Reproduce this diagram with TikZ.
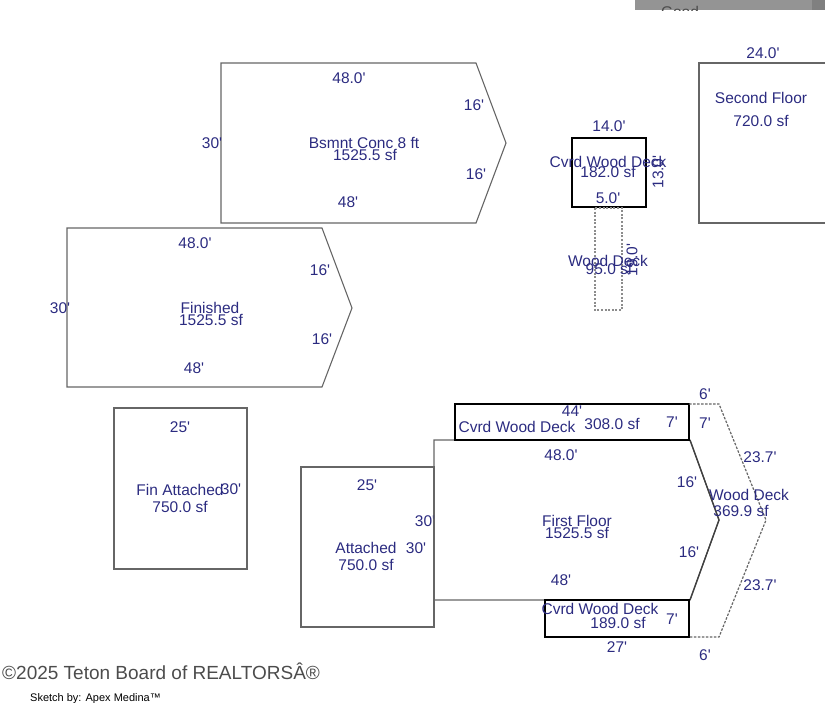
\documentclass[tikz,border=0pt]{standalone}
\usepackage{fontspec}
\newfontfamily\lblfont{Liberation Sans}
\usetikzlibrary{positioning}
\definecolor{labelblue}{HTML}{2B2B80}
\begin{document}
\begin{tikzpicture}[
    x=1pt, y=-1pt,
    lbl/.style={text=labelblue, font=\lblfont\fontsize{15.5}{15.5}\selectfont, inner sep=0pt},
    vlbl/.style={lbl, rotate=90},
    wall/.style={draw=black!60, line width=1.1pt, line join=miter},
    deck/.style={draw=black, line width=2.4pt},
    dotdeck/.style={draw=black!45, line width=1.9pt, dash pattern=on 2pt off 1.6pt}
]
    \useasboundingbox (0,0) rectangle (825,702);
    \clip (0,0) rectangle (825,702);

    % Grey bar along the top
    \fill[black!42] (635,0) rectangle (825,10);
    \fill[black!50] (812,0) rectangle (825,10);
    \begin{scope}
        \clip (635,0) rectangle (825,10);
        \node[text=black!70, font=\lblfont\fontsize{15.5}{15.5}\selectfont, inner sep=0pt] (good) at (680,12) {Good};
    \end{scope}

    % Basement
    \draw[wall] (221,63) -- (476,63) -- (506,143) -- (476,223) -- (221,223) -- cycle;
    \node[lbl] (b1) at (349,78) {48.0'};
    \node[lbl] (b2) at (474,105) {16'};
    \node[lbl] (b3) at (212,143) {30'};
    \node[lbl] (b4) at (476,174) {16'};
    \node[lbl] (b5) at (348,202) {48'};
    \node[lbl] (b6) at (364,143) {Bsmnt Conc 8 ft};
    \node[lbl] (b7) at (365,155) {1525.5 sf};

    % Finished
    \draw[wall] (67,228) -- (322,228) -- (352,308) -- (322,387) -- (67,387) -- cycle;
    \node[lbl] (f1) at (195,243) {48.0'};
    \node[lbl] (f2) at (320,270) {16'};
    \node[lbl] (f3) at (60,308) {30'};
    \node[lbl] (f4) at (322,339) {16'};
    \node[lbl] (f5) at (194,368) {48'};
    \node[lbl] (f6) at (210,308) {Finished};
    \node[lbl] (f7) at (211,320) {1525.5 sf};

    % Second floor
    \draw[wall] (830,63) -- (699,63) -- (699,223) -- (830,223);
    \node[lbl] (s1) at (763,53) {24.0'};
    \node[lbl] (s2) at (761,98) {Second Floor};
    \node[lbl] (s3) at (761,121) {720.0 sf};

    % Small covered deck with wood deck under it
    \draw[deck] (572,138) rectangle (646,207);
    \draw[dotdeck] (595,208) rectangle (622,310);
    \node[lbl] (c1) at (609,126) {14.0'};
    \node[lbl] (c2) at (608,162) {Cvrd Wood Deck};
    \node[lbl] (c3) at (608,172) {182.0 sf};
    \node[lbl] (c4) at (608,198) {5.0'};
    \node[vlbl] (c5) at (658,172) {13.0'};
    \node[lbl] (w1) at (608,261) {Wood Deck};
    \node[lbl] (w2) at (609,269) {95.0 sf};
    \node[vlbl] (w3) at (632,260) {19.0'};

    % Fin attached
    \draw[wall] (114,408) rectangle (247,569);
    \node[lbl] (a1) at (180,427) {25'};
    \node[lbl] (a2) at (180,490) {Fin Attached};
    \node[lbl] (a3) at (231,489) {30'};
    \node[lbl] (a4) at (180,507) {750.0 sf};

    % Attached
    \draw[wall] (301,467) rectangle (434,627);
    \node[lbl] (t1) at (367,485) {25'};
    \node[lbl] (t2) at (425,521) {30'};
    \node[lbl] (t3) at (366,548) {Attached};
    \node[lbl] (t4) at (416,548) {30'};
    \node[lbl] (t5) at (366,565) {750.0 sf};

    % First floor
    \draw[wall] (434,440) -- (690,440) -- (719,520) -- (690,600) -- (434,600) -- cycle;
    \draw[draw=black!75, line width=1.4pt] (690,440) -- (719,520) -- (690,600);
    \node[lbl] (m1) at (561,455) {48.0'};
    \node[lbl] (m2) at (687,482) {16'};
    \node[lbl] (m3) at (577,521) {First Floor};
    \node[lbl] (m4) at (577,533) {1525.5 sf};
    \node[lbl] (m5) at (689,552) {16'};
    \node[lbl] (m6) at (561,580) {48'};

    % Covered decks on first floor
    \draw[deck] (455,404) rectangle (689,440);
    \node[lbl] (d1) at (572,411) {44'};
    \node[lbl] (d2) at (517,427) {Cvrd Wood Deck};
    \node[lbl] (d3) at (612,424) {308.0 sf};
    \node[lbl] (d4) at (672,422) {7'};
    \draw[deck] (545,600) rectangle (689,637);
    \node[lbl] (e1) at (600,609) {Cvrd Wood Deck};
    \node[lbl] (e2) at (618,623) {189.0 sf};
    \node[lbl] (e3) at (672,619) {7'};
    \node[lbl] (e4) at (617,647) {27'};

    % Wood deck around the bay
    \draw[draw=black!60, line width=1.2pt, dash pattern=on 2.5pt off 1.5pt] (689,404) -- (719,404) -- (766,520) -- (719,637) -- (689,637);
    \node[lbl] (g1) at (705,394) {6'};
    \node[lbl] (g2) at (705,423) {7'};
    \node[lbl] (g3) at (760,457) {23.7'};
    \node[lbl] (g4) at (749,495) {Wood Deck};
    \node[lbl] (g5) at (741,511) {369.9 sf};
    \node[lbl] (g6) at (760,585) {23.7'};
    \node[lbl] (g7) at (705,655) {6'};

    % Footer
    \node[text=black!70, font=\lblfont\fontsize{19}{19}\selectfont, inner sep=0pt, anchor=west] (copyr) at (2,671) {©2025 Teton Board of REALTORSÂ®};
    \node[text=black, font=\lblfont\fontsize{11}{11}\selectfont, inner sep=0pt, anchor=west] (sketch) at (30,699) {Sketch by: Apex Medina™};
\end{tikzpicture}
\end{document}
